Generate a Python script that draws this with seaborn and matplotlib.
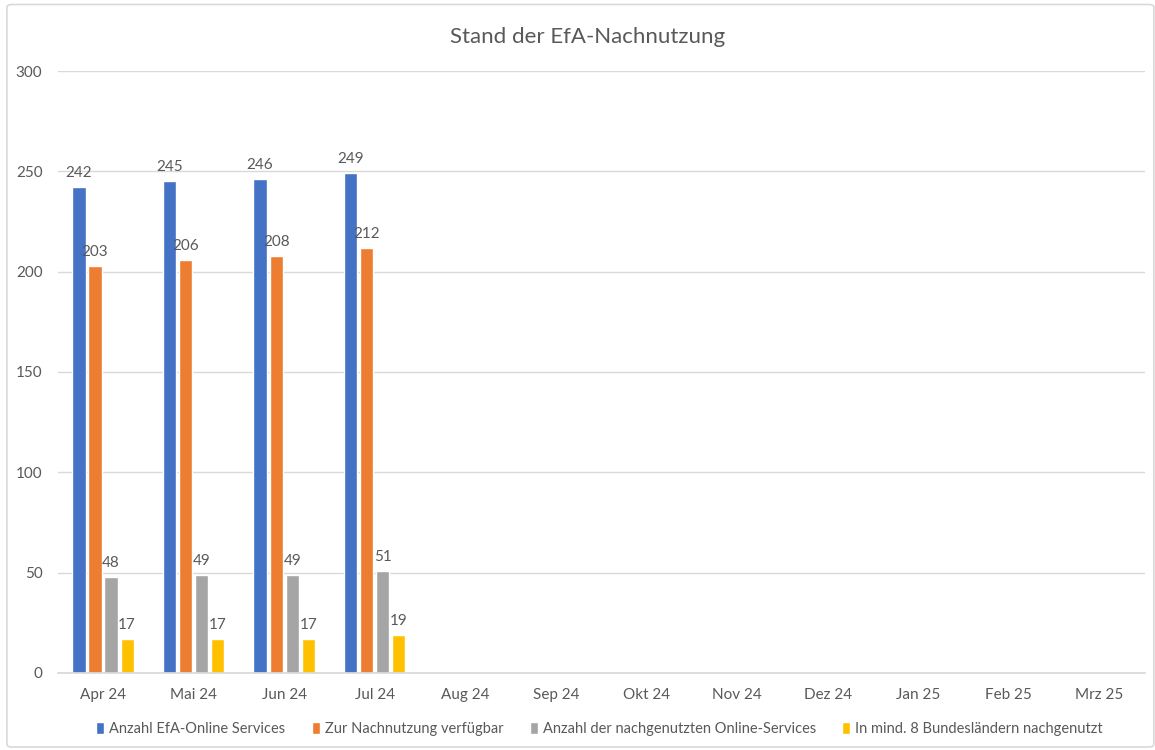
import numpy as np
import pandas as pd
import matplotlib
matplotlib.use("Agg")
import matplotlib.pyplot as plt
import seaborn as sns
from matplotlib.patches import FancyBboxPatch

months = ["Apr 24", "Mai 24", "Jun 24", "Jul 24", "Aug 24", "Sep 24",
          "Okt 24", "Nov 24", "Dez 24", "Jan 25", "Feb 25", "Mrz 25"]
series_names = ["Anzahl EfA-Online Services",
                "Zur Nachnutzung verfügbar",
                "Anzahl der nachgenutzten Online-Services",
                "In mind. 8 Bundesländern nachgenutzt"]
anzahl_efa = [242, 245, 246, 249]
nachnutzung_verfuegbar = [203, 206, 208, 212]
nachgenutzt = [48, 49, 49, 51]
mind_8_laender = [17, 17, 17, 19]
colors = ["#4472C4", "#ED7D31", "#A5A5A5", "#FFC000"]

rows = []
for name, vals in zip(series_names, [anzahl_efa, nachnutzung_verfuegbar, nachgenutzt, mind_8_laender]):
    for m, v in zip(months, vals):
        rows.append({"Monat": m, "Serie": name, "Wert": v})
df = pd.DataFrame(rows)

sns.set_theme(style="white")
plt.rcParams['font.family'] = ['Lato', 'DejaVu Sans']
text_color = "#595959"
grid_color = "#D9D9D9"

fig = plt.figure(figsize=(11.55, 7.5), dpi=100)
ax = fig.add_axes([0.050, 0.1027, 0.941, 0.8026])

sns.barplot(data=df, x="Monat", y="Wert", hue="Serie", order=months,
            hue_order=series_names, palette=colors, width=0.71, gap=0.18,
            errorbar=None, ax=ax, legend=True, saturation=1)

ax.set_ylim(0, 300)
ax.set_yticks([0, 50, 100, 150, 200, 250, 300])
ax.set_xlim(-0.5, len(months) - 0.5)
ax.grid(axis="y", color=grid_color, linewidth=1)
ax.set_axisbelow(True)
for s in ["top", "right", "left"]:
    ax.spines[s].set_visible(False)
ax.spines["bottom"].set_color(grid_color)
ax.tick_params(axis="both", length=0, labelsize=11, colors=text_color)
ax.tick_params(axis="x", pad=11)
ax.tick_params(axis="y", pad=11)
ax.set_xlabel("")
ax.set_ylabel("")

for cont in ax.containers:
    for bar in cont:
        h = bar.get_height()
        if np.isnan(h):
            continue
        ax.annotate(f"{int(round(h))}", (bar.get_x() + bar.get_width() / 2, h),
                    xytext=(0, 5), textcoords="offset points",
                    ha="center", va="bottom", fontsize=11, color=text_color)

handles, labels = ax.get_legend_handles_labels()
ax.get_legend().remove()
fig.legend(handles, labels, loc="center", bbox_to_anchor=(0.519, 0.028),
           ncol=4, frameon=False, fontsize=10.5, labelcolor=text_color,
           handlelength=0.55, handleheight=0.9, handletextpad=0.35,
           columnspacing=1.8)

fig.text(0.509, 0.951, "Stand der EfA-Nachnutzung", ha="center", va="center",
         fontsize=16, color=text_color)

border = FancyBboxPatch((0.006, 0.004), 0.993, 0.99, boxstyle="round,pad=0,rounding_size=0.004",
                        transform=fig.transFigure, fill=False, edgecolor=grid_color, linewidth=1.2)
fig.patches.append(border)

fig.savefig("out.png", dpi=100)
